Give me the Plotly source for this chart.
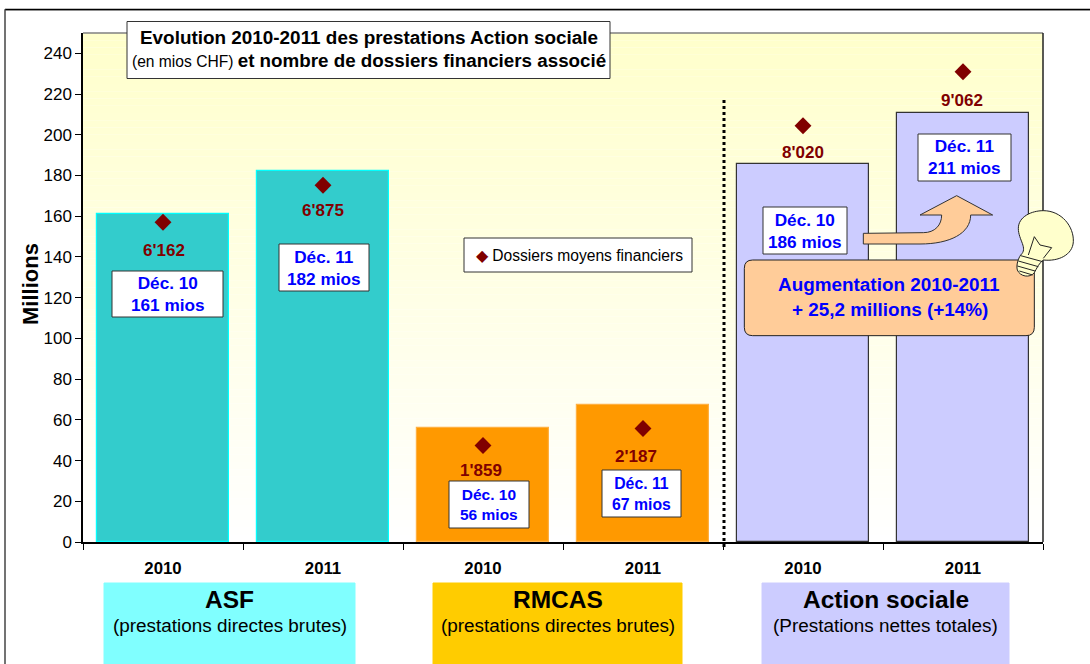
import plotly.graph_objects as go

W, H = 1090, 664
L, R, T, B = 83, 1043, 33, 542

# Data
categories = [0, 1, 2, 3, 4, 5]
years = ["2010", "2011", "2010", "2011", "2010", "2011"]
prestations = [161.2, 182.0, 56.2, 67.2, 185.7, 210.9]
dossiers = [6162, 6875, 1859, 2187, 8020, 9062]
dossier_labels = ["6'162", "6'875", "1'859", "2'187", "8'020", "9'062"]
bar_colors = ["#33CCCC", "#33CCCC", "#FF9900", "#FF9900", "#CCCCFF", "#CCCCFF"]
bar_lines = ["#00FFFF", "#00FFFF", "#FFB040", "#FFB040", "#333333", "#333333"]
box_labels = ["Déc. 10<br>161 mios", "Déc. 11<br>182 mios", "Déc. 10<br>56 mios",
              "Déc. 11<br>67 mios", "Déc. 10<br>186 mios", "Déc. 11<br>211 mios"]
box_rects = [(112, 271, 223, 317), (279, 244, 369, 291), (449, 481, 529, 528),
             (602, 470, 681, 517), (763, 207, 847, 254), (918, 134, 1011, 181)]
box_sizes = [17.2, 17.2, 15.5, 15.8, 17.2, 17.2]
label_xshift = [1, 0, -2, -7, 0, -1]
label_yshift = [-28, -25, -25, -28, -27, -29]
bottom_titles = ["ASF", "RMCAS", "Action sociale"]
bottom_subs = ["(prestations directes brutes)", "(prestations directes brutes)", "(Prestations nettes totales)"]
bottom_rects = [(104, 583, 355, 664), (433, 583, 682, 664), (762, 583, 1009, 664)]
bottom_colors = ["#80FFFF", "#FFCC00", "#CCCCFF"]

FONT = "Liberation Sans"
px = lambda x: x / W
py = lambda y: 1 - y / H


def rect(x0, y0, x1, y1, fill="white", line="#333333", width=1, layer="above"):
    return dict(type="rect", xref="paper", yref="paper", x0=px(x0), x1=px(x1), y0=py(y0), y1=py(y1),
                fillcolor=fill, line=dict(color=line, width=width), layer=layer)


def note(x, y, text, size, color="black", bold=False):
    return dict(xref="paper", yref="paper", x=px(x), y=py(y), text=f"<b>{text}</b>" if bold else text,
                showarrow=False, xanchor="center", yanchor="middle", align="center",
                font=dict(family=FONT, size=size, color=color))


def path(cmds):
    out = []
    for c in cmds:
        if isinstance(c, str):
            out.append(c)
        else:
            pts = " ".join(f"{px(c[i]):.5f},{py(c[i + 1]):.5f}" for i in range(0, len(c), 2))
            out.append(pts)
    return " ".join(out)


def z(x, y):  # coordinates read on the 3x crop at (700, 80)
    return [700 + x / 3, 80 + y / 3]


def zc(*p):
    o = []
    for i in range(0, len(p), 2):
        o += z(p[i], p[i + 1])
    return o


fig = go.Figure()
fig.add_bar(x=categories, y=prestations, width=0.83, marker=dict(color=bar_colors, line=dict(color=bar_lines, width=1.2)),
            showlegend=False, hoverinfo="skip")
fig.add_scatter(x=categories, y=dossiers, yaxis="y2", mode="markers", name="Dossiers moyens financiers",
                marker=dict(symbol="diamond", size=13, color="#800000"), showlegend=False)

shapes, annos = [], []
# gradient background
N = 70
for i in range(N):
    t = i / (N - 1)
    c = f"rgb(255,255,{int(204 + 51 * t)})"
    y0 = T + (B - T) * i / N
    y1 = T + (B - T) * (i + 1) / N
    shapes.append(dict(type="rect", xref="paper", yref="paper", x0=px(L), x1=px(R), y0=py(y0), y1=py(y1),
                       fillcolor=c, line=dict(width=0), layer="below"))
# plot frame
shapes.append(dict(type="line", xref="paper", yref="paper", x0=px(L), x1=px(R), y0=py(T), y1=py(T), line=dict(color="#808080", width=1.5), layer="below"))
shapes.append(dict(type="line", xref="paper", yref="paper", x0=px(R), x1=px(R), y0=py(T), y1=py(B), line=dict(color="#222222", width=1.5), layer="below"))
# outer frame
shapes.append(dict(type="line", xref="paper", yref="paper", x0=px(5), x1=px(1090), y0=py(10.5), y1=py(10.5), line=dict(color="#909090", width=1), layer="below"))
shapes.append(dict(type="line", xref="paper", yref="paper", x0=px(5), x1=px(1090), y0=py(9.3), y1=py(9.3), line=dict(color="black", width=1.2), layer="below"))
shapes.append(dict(type="line", xref="paper", yref="paper", x0=px(5), x1=px(5), y0=py(9.3), y1=py(664), line=dict(color="#444444", width=1.5), layer="below"))
# separator
shapes.append(dict(type="line", xref="paper", yref="paper", x0=px(724), x1=px(724), y0=py(100), y1=py(550),
                   line=dict(color="black", width=3, dash="dot")))
# title
shapes.append(rect(127, 21.5, 610, 78.5))
annos.append(note(369, 37, "Evolution 2010-2011 des prestations Action sociale", 18.9, bold=True))
annos.append(dict(xref="paper", yref="paper", x=px(369), y=py(60), showarrow=False, xanchor="center", yanchor="middle",
                  text="<span style='font-size:15.6px'>(en mios CHF) </span><b>et nombre de dossiers financiers associé</b>",
                  font=dict(family=FONT, size=18.8, color="black")))
# legend box
shapes.append(rect(464, 238, 692, 272))
annos.append(dict(xref="paper", yref="paper", x=px(474), y=py(255.5), xanchor="left", yanchor="middle", showarrow=False,
                  text="<span style='color:#800000;font-size:16px'>◆</span> Dossiers moyens financiers",
                  font=dict(family=FONT, size=15.6, color="black")))
# value boxes
for (x0, y0, x1, y1), t, s in zip(box_rects, box_labels, box_sizes):
    shapes.append(rect(x0, y0, x1, y1))
    annos.append(note((x0 + x1) / 2, (y0 + y1) / 2, t, s, color="#0000FF", bold=True))
# marker labels
for c, d, t, dx, dy in zip(categories, dossiers, dossier_labels, label_xshift, label_yshift):
    annos.append(dict(xref="x", yref="y2", x=c, y=d, xshift=dx, yshift=dy, text=f"<b>{t}</b>", showarrow=False,
                      font=dict(family=FONT, size=17, color="#800000")))
# bottom boxes
for (x0, y0, x1, y1), c, t, s in zip(bottom_rects, bottom_colors, bottom_titles, bottom_subs):
    shapes.append(rect(x0, y0, x1, y1, fill=c, line=c))
    annos.append(note((x0 + x1) / 2, 599, t, 24.5, bold=True))
    annos.append(note((x0 + x1) / 2, 625, s, 18.9))
# arrow
arrow = path(["M", z(490, 460), "L", z(670, 458), "C", zc(705, 458, 725, 435, 725, 405), "L", z(660, 405),
              "L", z(770, 347), "L", z(878, 405), "L", z(812, 405), "C", zc(812, 460, 750, 492, 660, 492),
              "L", z(490, 492), "Z"])
shapes.append(dict(type="path", xref="paper", yref="paper", path=arrow, fillcolor="#FFCC99", line=dict(color="#333333", width=1)))
# rounded box
r = 25
rb = path(["M", z(133 + r, 540), "L", z(1003 - r, 540), "Q", zc(1003, 540, 1003, 540 + r), "L", z(1003, 767 - r),
           "Q", zc(1003, 767, 1003 - r, 767), "L", z(133 + r, 767), "Q", zc(133, 767, 133, 767 - r),
           "L", z(133, 540 + r), "Q", zc(133, 540, 133 + r, 540), "Z"])
shapes.append(dict(type="path", xref="paper", yref="paper", path=rb, fillcolor="#FFCC99", line=dict(color="#222222", width=1)))
annos.append(note(889, 284, "Augmentation 2010-2011", 18.9, color="#0000FF", bold=True))
annos.append(note(890, 309, "+ 25,2 millions (+14%)", 18.9, color="#0000FF", bold=True))
# bulb
bulb = path(["M", z(962, 525), "C", zc(985, 505, 955, 480, 955, 445), "C", zc(955, 410, 995, 392, 1030, 392),
             "C", zc(1085, 392, 1122, 440, 1120, 485), "C", zc(1118, 525, 1075, 545, 1030, 540),
             "C", zc(1018, 548, 1010, 565, 1003, 578), "C", zc(990, 595, 960, 590, 952, 570),
             "C", zc(948, 555, 955, 535, 962, 525), "Z"])
shapes.append(dict(type="path", xref="paper", yref="paper", path=bulb, fillcolor="#FFFFCC", line=dict(color="#222222", width=1)))
for a, b in [((962, 527), (1028, 545)), ((955, 543), (1015, 560)), ((952, 558), (1005, 573)), ((958, 573), (998, 585))]:
    shapes.append(dict(type="path", xref="paper", yref="paper", path=path(["M", z(*a), "L", z(*b)]), line=dict(color="#222222", width=1)))
fil = path(["M", z(985, 525), "L", z(1003, 470), "L", z(1020, 495), "L", z(1055, 503), "L", z(1030, 535)])
shapes.append(dict(type="path", xref="paper", yref="paper", path=fil, line=dict(color="#222222", width=1)))

annos.append(dict(xref="paper", yref="paper", x=px(30), y=py(284), text="<b>Millions</b>", textangle=-90, showarrow=False,
                  xanchor="center", yanchor="middle", font=dict(family=FONT, size=22, color="black")))

fig.update_layout(
    width=W, height=H, margin=dict(l=0, r=0, t=0, b=0), paper_bgcolor="white", plot_bgcolor="rgba(0,0,0,0)",
    font=dict(family=FONT, color="black"), bargap=0, shapes=shapes, annotations=annos, showlegend=False,
    xaxis=dict(domain=[px(L), px(R)], range=[-0.5, 5.5], automargin=False, tickmode="array", tickvals=categories, ticktext=[f"<b>{y}</b>" for y in years],
               ticks="", ticklen=0, ticklabelstandoff=10, tickfont=dict(size=16.8, family=FONT), showgrid=False, zeroline=False,
               showline=True, linecolor="black", linewidth=1.5,
               minor=dict(tickmode="array", tickvals=[-0.5, 0.5, 1.5, 2.5, 3.5, 4.5, 5.5], ticks="outside", ticklen=6, tickcolor="black", tickwidth=1, showgrid=False)),
    yaxis=dict(domain=[py(B), py(T)], range=[0, 250], automargin=False, tickvals=list(range(0, 241, 20)), ticks="outside", ticklen=6, tickcolor="black",
               tickfont=dict(size=17, family=FONT), showgrid=False, zeroline=False, showline=True, linecolor="black", linewidth=1.5),
    yaxis2=dict(domain=[py(B), py(T)], range=[0, 9808], overlaying="y", side="right", visible=False, automargin=False),
    hovermode=False,
)
fig.write_html("out.html", config={"displayModeBar": False},
               post_script="document.body.style.margin='0';document.body.style.overflow='hidden';")
